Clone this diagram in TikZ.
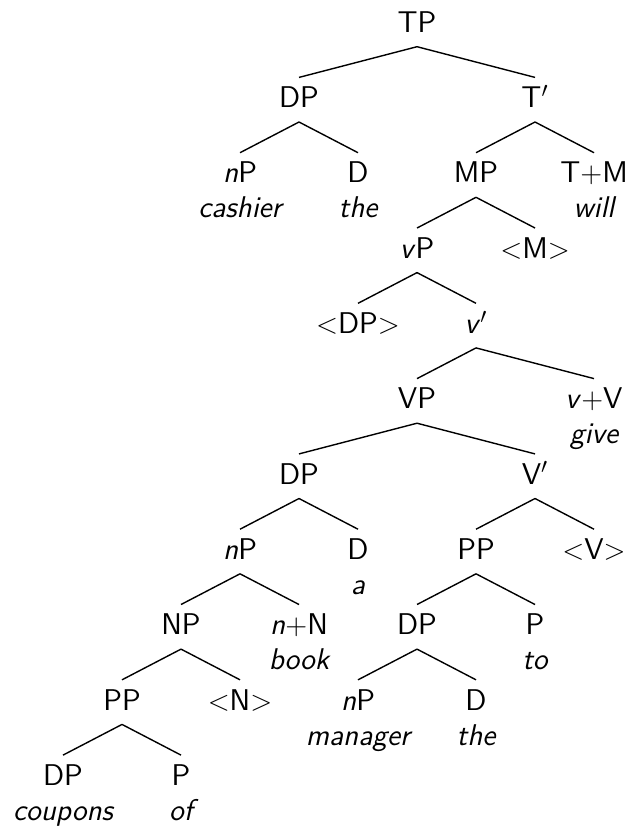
\documentclass[tikz,border=0pt]{standalone}
\usepackage{fontspec}
\tikzset{
	cat/.style={anchor=base, font=\sffamily\fontsize{15}{18}\selectfont, inner xsep=0pt, inner ysep=4.5pt, text height=10.4pt, text depth=2.5pt},
	gloss/.style={anchor=base, font=\sffamily\itshape\fontsize{15}{18}\selectfont, inner sep=0pt},
	branch/.style={line width=0.7pt}
}
\begin{document}
\begin{tikzpicture}[x=29.5pt,y=37.65pt]
	\useasboundingbox (-1.068,0.429) rectangle (9.712,-10.62);
		\node (tp)[cat] at (6, 0) {TP} ; 
		\node (dp1)[cat] at (4, -1) {DP} ; 
		\node (tbar)[cat] at (8, -1) {T$'$} ; 
		\node (np1)[cat] at (3, -2) {\textit{n}P} ; 
		\node (gl1)[gloss] at (3, -2.465) {cashier} ; 
		\node (d1)[cat] at (5, -2) {D} ; 
		\node (gl2)[gloss] at (5, -2.465) {the} ; 
		\node (mp)[cat] at (7, -2) {MP} ; 
		\node (tm)[cat] at (9, -2) {T$+$M} ; 
		\node (gl3)[gloss] at (9, -2.465) {will} ; 
		\node (vp1)[cat] at (6, -3) {\textit{v}P} ; 
		\node (mtr)[cat] at (8, -3) {$<$M$>$} ; 
		\node (dptr)[cat] at (5, -4) {$<$DP$>$} ; 
		\node (vbar1)[cat] at (7, -4) {\textit{v}$'$} ; 
		\node (vp2)[cat] at (6, -5) {VP} ; 
		\node (vv)[cat] at (9, -5) {\textit{v}$+$V} ; 
		\node (gl4)[gloss] at (9, -5.465) {give} ; 
		\node (dp2)[cat] at (4, -6) {DP} ; 
		\node (vbar2)[cat] at (8, -6) {V$'$} ; 
		\node (np2)[cat] at (3, -7) {\textit{n}P} ; 
		\node (d2)[cat] at (5, -7) {D} ; 
		\node (gl5)[gloss] at (5, -7.465) {a} ; 
		\node (pp1)[cat] at (7, -7) {PP} ; 
		\node (vtr)[cat] at (9, -7) {$<$V$>$} ; 
		\node (np3)[cat] at (2, -8) {NP} ; 
		\node (nn)[cat] at (4, -8) {\textit{n}$+$N} ; 
		\node (gl6)[gloss] at (4, -8.465) {book} ; 
		\node (dp3)[cat] at (6, -8) {DP} ; 
		\node (p1)[cat] at (8, -8) {P} ; 
		\node (gl7)[gloss] at (8, -8.465) {to} ; 
		\node (pp2)[cat] at (1, -9) {PP} ; 
		\node (ntr)[cat] at (3, -9) {$<$N$>$} ; 
		\node (np4)[cat] at (5, -9) {\textit{n}P} ; 
		\node (gl8)[gloss] at (5, -9.465) {manager} ; 
		\node (d3)[cat] at (7, -9) {D} ; 
		\node (gl9)[gloss] at (7, -9.465) {the} ; 
		\node (dp4)[cat] at (0, -10) {DP} ; 
		\node (gl10)[gloss] at (0, -10.465) {coupons} ; 
		\node (p2)[cat] at (2, -10) {P} ; 
		\node (gl11)[gloss] at (2, -10.465) {of} ; 
	\draw[branch] (tp.south) -- (dp1.north) ;
	\draw[branch] (tp.south) -- (tbar.north) ;
	\draw[branch] (dp1.south) -- (np1.north) ;
	\draw[branch] (dp1.south) -- (d1.north) ;
	\draw[branch] (tbar.south) -- (mp.north) ;
	\draw[branch] (tbar.south) -- (tm.north) ;
	\draw[branch] (mp.south) -- (vp1.north) ;
	\draw[branch] (mp.south) -- (mtr.north) ;
	\draw[branch] (vp1.south) -- (dptr.north) ;
	\draw[branch] (vp1.south) -- (vbar1.north) ;
	\draw[branch] (vbar1.south) -- (vp2.north) ;
	\draw[branch] (vbar1.south) -- (vv.north) ;
	\draw[branch] (vp2.south) -- (dp2.north) ;
	\draw[branch] (vp2.south) -- (vbar2.north) ;
	\draw[branch] (dp2.south) -- (np2.north) ;
	\draw[branch] (dp2.south) -- (d2.north) ;
	\draw[branch] (vbar2.south) -- (pp1.north) ;
	\draw[branch] (vbar2.south) -- (vtr.north) ;
	\draw[branch] (np2.south) -- (np3.north) ;
	\draw[branch] (np2.south) -- (nn.north) ;
	\draw[branch] (pp1.south) -- (dp3.north) ;
	\draw[branch] (pp1.south) -- (p1.north) ;
	\draw[branch] (np3.south) -- (pp2.north) ;
	\draw[branch] (np3.south) -- (ntr.north) ;
	\draw[branch] (dp3.south) -- (np4.north) ;
	\draw[branch] (dp3.south) -- (d3.north) ;
	\draw[branch] (pp2.south) -- (dp4.north) ;
	\draw[branch] (pp2.south) -- (p2.north) ;
\end{tikzpicture}
\end{document}
